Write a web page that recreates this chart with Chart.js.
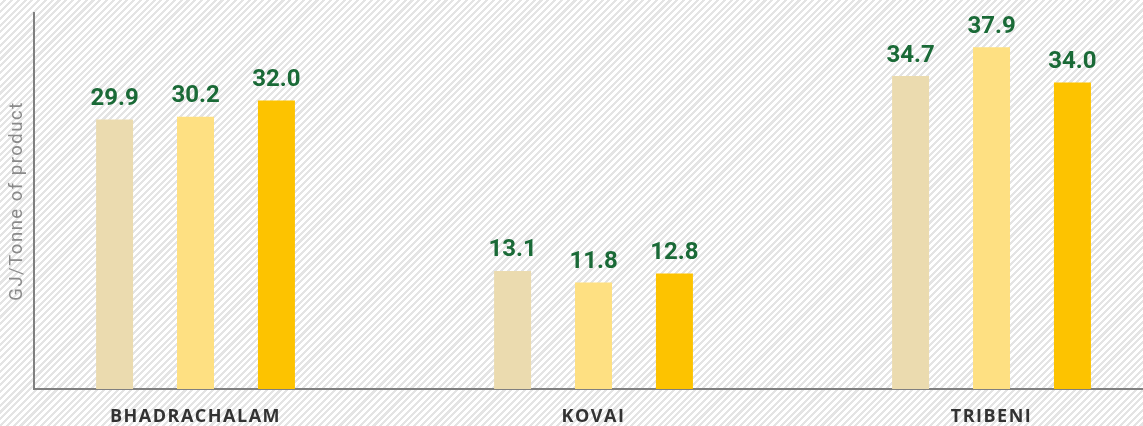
<!DOCTYPE html>
<html>
<head>
<meta charset="utf-8">
<script src="https://cdn.jsdelivr.net/npm/chart.js@4/dist/chart.umd.min.js"></script>
<style>
    html, body {
        margin: 0;
        padding: 0;
    }
    body {
        width: 1143px;
        height: 426px;
        overflow: hidden;
        background: repeating-linear-gradient(135deg, #ffffff 0px, #ffffff 2.6px, #e4e4e4 2.6px, #e4e4e4 4.8px);
    }
    #wrap {
        position: relative;
        width: 1143px;
        height: 426px;
    }
</style>
</head>
<body>
<div id="wrap"><canvas id="energychart"></canvas></div>
<script>
    "use strict";

    // Data
    var sites = ["BHADRACHALAM", "KOVAI", "TRIBENI"];
    var year1 = [29.9, 13.1, 34.7];
    var year2 = [30.2, 11.8, 37.9];
    var year3 = [32.0, 12.8, 34.0];
    var axisTitle = "GJ/Tonne of product";

    var toPoints = function (values) {
        return values.map(function (v, i) {
            return { x: i, y: v };
        });
    };

    // Value labels above bars
    var valueLabels = {
        id: "valueLabels",
        afterDatasetsDraw: function (chart) {
            var ctx = chart.ctx;
            ctx.save();
            ctx.letterSpacing = "0px";
            ctx.font = "bold 24px Roboto";
            ctx.fillStyle = "#1a6a37";
            ctx.textAlign = "center";
            ctx.textBaseline = "alphabetic";
            chart.data.datasets.forEach(function (ds, di) {
                var meta = chart.getDatasetMeta(di);
                meta.data.forEach(function (bar, i) {
                    ctx.fillText(ds.data[i].y.toFixed(1), bar.x, bar.y - 14.5);
                });
            });
            ctx.restore();
        }
    };

    // Spaced axis text
    var spacing = {
        id: "spacing",
        beforeDraw: function (chart) {
            chart.ctx.letterSpacing = "1.5px";
        }
    };

    var ctx1 = document.getElementById("energychart").getContext("2d");

    var myChart1 = new Chart(ctx1, {
        type: "bar",
        data: {
            datasets: [
                {
                    data: toPoints(year1),
                    backgroundColor: "#ebdbaf" // Beige
                },
                {
                    data: toPoints(year2),
                    backgroundColor: "#fee082" // Light yellow
                },
                {
                    data: toPoints(year3),
                    backgroundColor: "#fdc300" // Gold
                }
            ]
        },
        options: {
            responsive: true,
            maintainAspectRatio: false,
            animation: false,
            barPercentage: 0.457,
            categoryPercentage: 0.61,
            layout: {
                padding: { top: 13, left: 0, right: 0, bottom: 0 }
            },
            plugins: {
                legend: { display: false },
                tooltip: { enabled: false }
            },
            scales: {
                x: {
                    type: "linear",
                    offset: false,
                    min: -0.4058,
                    max: 2.3806,
                    grid: { display: false, drawTicks: false, offset: false },
                    border: { display: true, color: "#808080", width: 2 },
                    afterBuildTicks: function (scale) {
                        scale.ticks = sites.map(function (s, i) {
                            return { value: i };
                        });
                    },
                    afterFit: function (scale) {
                        scale.height = 37;
                    },
                    ticks: {
                        autoSkip: false,
                        maxRotation: 0,
                        padding: 17,
                        color: "#333333",
                        font: { family: "'Open Sans'", size: 18, weight: "bold" },
                        callback: function (value) {
                            return sites[value];
                        }
                    }
                },
                y: {
                    min: 0,
                    max: 41.7,
                    grid: { display: false, drawTicks: false },
                    border: { display: true, color: "#808080", width: 2 },
                    ticks: { display: false },
                    afterFit: function (scale) {
                        scale.width = 34;
                    },
                    title: {
                        display: true,
                        text: axisTitle,
                        color: "#8a8a8a",
                        font: { family: "Roboto", size: 18.5, weight: "normal" },
                        padding: { top: 6, bottom: 0 }
                    }
                }
            }
        },
        plugins: [spacing, valueLabels]
    });
</script>
</body>
</html>
